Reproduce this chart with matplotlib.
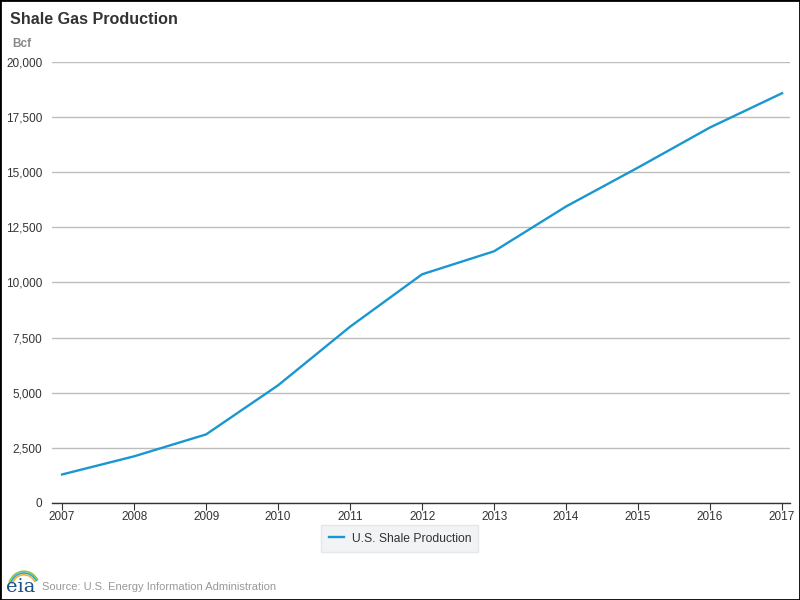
import matplotlib
matplotlib.use("Agg")
import matplotlib.pyplot as plt
from matplotlib.patches import Rectangle, Arc
from matplotlib.ticker import FuncFormatter

# 数据
years = [2007, 2008, 2009, 2010, 2011, 2012, 2013, 2014, 2015, 2016, 2017]
shale_bcf = [1293, 2116, 3110, 5336, 7994, 10371, 11415, 13447, 15213, 17032, 18584]
y_ticks = [0, 2500, 5000, 7500, 10000, 12500, 15000, 17500, 20000]

plt.rcParams['font.family'] = ['Liberation Sans', 'DejaVu Sans']

fig = plt.figure(figsize=(8, 6), dpi=100)
ax = fig.add_axes([0.065, 0.1617, 0.9225, 0.735])

line_color = '#1a96d0'
ax.plot(years, shale_bcf, color=line_color, linewidth=1.7, label='U.S. Shale Production')

ax.set_xlim(2006.86, 2017.11)
ax.set_ylim(0, 20000)
ax.set_xticks(years)
ax.set_yticks(y_ticks)
ax.yaxis.set_major_formatter(FuncFormatter(lambda v, p: f'{int(v):,}'))

ax.grid(axis='y', color='#bdbdbd', linewidth=1)
ax.set_axisbelow(True)
for s in ['top', 'right', 'left']:
    ax.spines[s].set_visible(False)
ax.spines['bottom'].set_color('#333333')
ax.spines['bottom'].set_linewidth(1)
ax.tick_params(axis='y', length=0, labelsize=8.5, labelcolor='#333333', pad=7)
ax.tick_params(axis='x', length=5, labelsize=8.5, labelcolor='#333333', color='#333333', pad=1)

# 标题和单位
fig.text(0.012, 0.968, 'Shale Gas Production', fontsize=11.6, fontweight='bold',
         color='#333333', va='center')
fig.text(0.015, 0.927, 'Bcf', fontsize=8.5, fontweight='bold', color='#888888', va='center')

# 图例
leg = ax.legend(loc='upper center', bbox_to_anchor=(0.4715, -0.037), frameon=True,
                fontsize=8.7, handlelength=1.3, borderpad=0.6, handletextpad=0.6)
leg.get_frame().set_facecolor('#eef0f3')
leg.get_frame().set_edgecolor('#e0e3e8')
leg.get_frame().set_boxstyle('square', pad=0)
for t in leg.get_texts():
    t.set_color('#333333')

# 来源
fig.text(0.053, 0.022, 'Source: U.S. Energy Information Administration', fontsize=8,
         color='#999999', va='center')
fig.text(0.007, 0.022, 'eia', fontsize=14, family='DejaVu Serif', color='#1b4f8a', va='center')
arc_colors = ['#8dc63f', '#27a7d8', '#f2b134']
for i, c in enumerate(arc_colors):
    fig.add_artist(Arc((0.03, 0.018), 0.04 - i * 0.004, 0.06 - i * 0.006, theta1=40, theta2=150,
                       transform=fig.transFigure, color=c, linewidth=1.2))

# 外边框
fig.add_artist(Rectangle((0, 0), 1, 1, transform=fig.transFigure, fill=False,
                         edgecolor='black', linewidth=2))

fig.savefig('out.png', dpi=100)
